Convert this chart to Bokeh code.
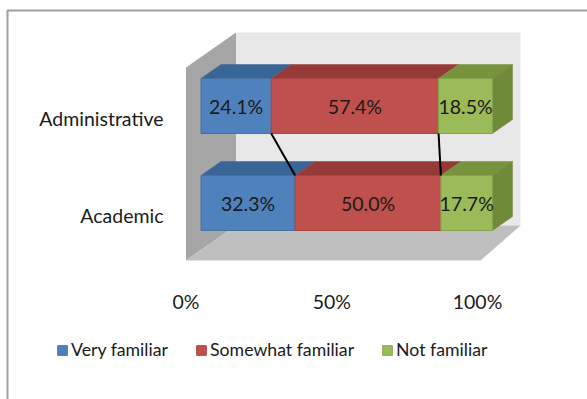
from bokeh.plotting import figure
from bokeh.models import Range1d, Legend, LegendItem
from bokeh.embed import file_html
from bokeh.resources import INLINE
from bokeh.core.properties import value

# ---------------- data ----------------
categories = ["Academic", "Administrative"]
series_names = ["Very familiar", "Somewhat familiar", "Not familiar"]
very_familiar = [32.3, 24.1]
somewhat_familiar = [50.0, 57.4]
not_familiar = [17.7, 18.5]
x_ticks = [0, 50, 100]
x_tick_labels = ["0%", "50%", "100%"]

# ---------------- style ----------------
front_colors = ["#4F81BD", "#C0504D", "#9BBB59"]
edge_colors = ["#44719F", "#A84542", "#86A44B"]
top_colors = ["#3A6597", "#963A37", "#77933C"]
side_colors = ["#3A6597", "#963A37", "#6F8A38"]
BACK_WALL = "#E8E8E8"
LEFT_WALL = "#A6A6A6"
FLOOR = "#BFBFBF"
TEXT = "#1A1A1A"
FONT = "Lato"
FS = "19.5px"
LEGEND_FS = "17.7px"

# ---------------- layout (pixel based) ----------------
W, H = 587, 399
PX_X = 2.915      # px per percent
PX_Y = 97.0       # px per category step
X0_PX = 185.5     # screen x of 0% on the front floor edge
Y0_PX = 213.0     # screen y of first category at the front
DEPTH_X = 50 / PX_X
DEPTH_Y = 35 / PX_Y
BAR_Z0, BAR_Z1 = 0.3, 0.7
BAR_HALF = 27.5 / PX_Y
FLOOR_Y = -47 / PX_Y
TOP_Y = 146 / PX_Y
WALL_RIGHT = (520 - 50 - X0_PX) / PX_X
FLOOR_RIGHT = (480 - X0_PX) / PX_X
LABEL_X = (163 - X0_PX) / PX_X
LABEL_DY = -2 / PX_Y
TICK_Y = -(301 - Y0_PX) / PX_Y
BORDER_X = (7 - X0_PX) / PX_X
BORDER_Y = (Y0_PX - 10) / PX_Y

x_start, x_end = -X0_PX / PX_X, (W - X0_PX) / PX_X
y_start, y_end = -(H - Y0_PX) / PX_Y, Y0_PX / PX_Y


def proj(x, y, z):
    return x + z * DEPTH_X, y + z * DEPTH_Y


def poly(pts):
    xs, ys = zip(*[proj(*p) for p in pts])
    return list(xs), list(ys)


p = figure(width=W, height=H, output_backend="svg", toolbar_location=None,
           x_range=Range1d(x_start, x_end), y_range=Range1d(y_start, y_end),
           x_axis_location=None, y_axis_location=None, min_border=0)
p.grid.visible = False
p.outline_line_color = None
p.background_fill_color = "white"
p.border_fill_color = "white"

# outer chart-area border (top & left visible)
p.line([BORDER_X, BORDER_X, x_end], [y_start, BORDER_Y, BORDER_Y],
       line_color="#A0A0A0", line_width=2)

# walls and floor
bx, by = poly([(0, FLOOR_Y, 1), (WALL_RIGHT, FLOOR_Y, 1), (WALL_RIGHT, TOP_Y, 1), (0, TOP_Y, 1)])
p.patch(bx, by, fill_color=BACK_WALL, line_color=None)
lx, ly = poly([(0, FLOOR_Y, 0), (0, TOP_Y, 0), (0, TOP_Y, 1), (0, FLOOR_Y, 1)])
p.patch(lx, ly, fill_color=LEFT_WALL, line_color=None)
fx, fy = poly([(0, FLOOR_Y, 0), (FLOOR_RIGHT, FLOOR_Y, 0), (WALL_RIGHT, FLOOR_Y, 1), (0, FLOOR_Y, 1)])
p.patch(fx, fy, fill_color=FLOOR, line_color=None)

values = [very_familiar, somewhat_familiar, not_familiar]
cum = []
for ci in range(len(categories)):
    c = [0.0]
    for s in values:
        c.append(c[-1] + s[ci])
    cum.append(c)

front_renderers = []
for si, name in enumerate(series_names):
    fxs, fys, txs, tys, sxs, sys_ = [], [], [], [], [], []
    lab_x, lab_y, lab_t = [], [], []
    for ci in range(len(categories)):
        x0, x1 = cum[ci][si], cum[ci][si + 1]
        yb, yt = ci - BAR_HALF, ci + BAR_HALF
        a, b = poly([(x0, yb, BAR_Z0), (x1, yb, BAR_Z0), (x1, yt, BAR_Z0), (x0, yt, BAR_Z0)])
        fxs.append(a); fys.append(b)
        a, b = poly([(x0, yt, BAR_Z0), (x1, yt, BAR_Z0), (x1, yt, BAR_Z1), (x0, yt, BAR_Z1)])
        txs.append(a); tys.append(b)
        if si == len(series_names) - 1:
            a, b = poly([(x1, yb, BAR_Z0), (x1, yb, BAR_Z1), (x1, yt, BAR_Z1), (x1, yt, BAR_Z0)])
            sxs.append(a); sys_.append(b)
        cx, cy = proj((x0 + x1) / 2, ci, BAR_Z0)
        lab_x.append(cx); lab_y.append(cy); lab_t.append(f"{values[si][ci]:.1f}%")
    p.patches(txs, tys, fill_color=top_colors[si], line_color=top_colors[si], line_width=0.5)
    if sxs:
        p.patches(sxs, sys_, fill_color=side_colors[si], line_color=side_colors[si], line_width=0.5)
    r = p.patches(fxs, fys, fill_color=front_colors[si], line_color=edge_colors[si], line_width=1)
    front_renderers.append(r)
    p.text(lab_x, lab_y, text=lab_t, text_align="center", text_baseline="middle",
           text_font=value(FONT), text_font_size=FS, text_color=TEXT)

# series lines between the bars
for k in (1, 2):
    x_a, y_a = proj(cum[1][k], 1 - BAR_HALF, BAR_Z0)
    x_b, y_b = proj(cum[0][k], 0 + BAR_HALF, BAR_Z0)
    p.segment([x_a], [y_a], [x_b], [y_b], line_color="black", line_width=2)

# category labels
p.text([LABEL_X] * len(categories), [i + LABEL_DY for i in range(len(categories))], text=categories,
       text_align="right", text_baseline="middle", text_font=value(FONT),
       text_font_size=FS, text_color=TEXT)

# value axis labels
p.text(x_ticks, [TICK_Y] * len(x_ticks), text=x_tick_labels, text_align="center",
       text_baseline="middle", text_font=value(FONT), text_font_size=FS, text_color=TEXT)

legend = Legend(items=[LegendItem(label=n, renderers=[r]) for n, r in zip(series_names, front_renderers)],
                orientation="horizontal", location=(56, 39), margin=0, padding=0,
                glyph_width=12, glyph_height=12, label_standoff=3, spacing=27,
                label_text_font=FONT, label_text_font_size=LEGEND_FS, label_text_color=TEXT,
                border_line_color=None, background_fill_alpha=0)
p.add_layout(legend)

open("out.html", "w").write(file_html(p, INLINE))
